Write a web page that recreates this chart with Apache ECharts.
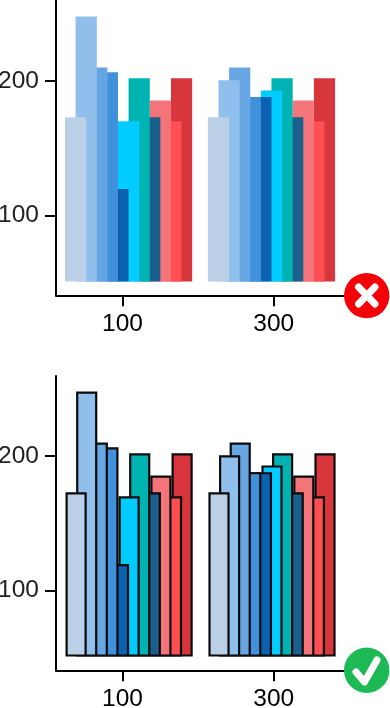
<!DOCTYPE html>
<html>
<head>
<meta charset="utf-8">
<style>
  html, body { margin: 0; padding: 0; background: #fff; }
  #main { width: 390px; height: 708px; }
</style>
</head>
<body>
<div id="main"></div>
<script src="https://cdn.jsdelivr.net/npm/echarts@6/dist/echarts.min.js"></script>
<script>
var groupX = [108, 297];
var xTicks = [100, 300];
var yTicks = [100, 200];
var barBase = 50.6;

var barColors = ['#b9d0e6', '#90bfec', '#65a6e3', '#4190db', '#0b62b1', '#00ccff',
    '#00b3b3', '#1b5f8c', '#f37479', '#ff4f55', '#d6363c'];
var group1 = [173, 248, 210, 206.5, 119.5, 170, 202, 173, 185.5, 170, 202];
var group2 = [173, 200.5, 210, 188, 188, 193, 202, 173, 185.5, 170, 202];

var rows = [
    { top: 0, height: 295.3, yMax: 260.3, shift: 0, outline: false },
    { top: 376, height: 294.3, yMax: 259.6, shift: 0.7, outline: true }
];

var FONT = '"Liberation Sans", Arial, sans-serif';
var grid = [], xAxis = [], yAxis = [], series = [];

rows.forEach(function (row, r) {
    grid.push({ left: 56, top: row.top, width: 310, height: row.height, outerBoundsMode: 'none' });
    xAxis.push({
        type: 'value', gridIndex: r, min: 12, max: 422,
        axisLine: { show: true, onZero: false, lineStyle: { color: '#000', width: 2 } },
        axisTick: { show: true, length: 11, customValues: xTicks, lineStyle: { color: '#000', width: 2 } },
        axisLabel: { customValues: xTicks, color: '#000', fontFamily: FONT, fontSize: 24.5, margin: 16 },
        splitLine: { show: false }
    });
    yAxis.push({
        type: 'value', gridIndex: r, min: 40.4, max: row.yMax,
        axisLine: { show: true, onZero: false, lineStyle: { color: '#000', width: 2 } },
        axisTick: { show: true, length: 11, customValues: yTicks, lineStyle: { color: '#000', width: 2 } },
        axisLabel: { customValues: yTicks, color: '#222', fontFamily: FONT, fontSize: 24.5, margin: 17 },
        splitLine: { show: false }
    });

    barColors.forEach(function (color, i) {
        var stack = 'r' + r + 'b' + i;
        // invisible part lifts the bars off the axis, they start at barBase
        // y comes first in each row, otherwise echarts stacks on x
        series.push({
            type: 'bar', xAxisIndex: r, yAxisIndex: r, stack: stack,
            barWidth: 21.2, barGap: '-50%', silent: true,
            encode: { x: 1, y: 0 },
            itemStyle: { color: 'transparent' },
            data: groupX.map(function (x) { return [barBase, x + row.shift]; })
        });
        series.push({
            type: 'bar', xAxisIndex: r, yAxisIndex: r, stack: stack,
            barWidth: 21.2, barGap: '-50%', z: 40 - i,
            encode: { x: 1, y: 0 },
            itemStyle: {
                color: color,
                borderColor: row.outline ? '#0a0a0a' : color,
                borderWidth: row.outline ? 2.2 : 0
            },
            data: [[group1[i] - barBase, groupX[0] + row.shift], [group2[i] - barBase, groupX[1] + row.shift]]
        });
    });
});

var myChart = echarts.init(document.getElementById('main'), null, { renderer: 'canvas' });
myChart.setOption({
    animation: false,
    backgroundColor: '#fff',
    grid: grid,
    xAxis: xAxis,
    yAxis: yAxis,
    series: series,
    graphic: [
        { type: 'circle', z: 100, shape: { cx: 366.7, cy: 295.6, r: 22.7 }, style: { fill: '#f40009' } },
        { type: 'polyline', z: 101, shape: { points: [[358.5, 287], [375, 304]] },
            style: { stroke: '#fff', lineWidth: 7, lineCap: 'round', fill: null } },
        { type: 'polyline', z: 101, shape: { points: [[375, 287], [358.5, 304]] },
            style: { stroke: '#fff', lineWidth: 7, lineCap: 'round', fill: null } },
        { type: 'circle', z: 100, shape: { cx: 366.7, cy: 670.3, r: 22.7 }, style: { fill: '#1db954' } },
        { type: 'polyline', z: 101, shape: { points: [[356, 672], [364.5, 682], [377, 660]] },
            style: { stroke: '#fff', lineWidth: 7, lineCap: 'round', lineJoin: 'round', fill: null } }
    ]
});
</script>
</body>
</html>
